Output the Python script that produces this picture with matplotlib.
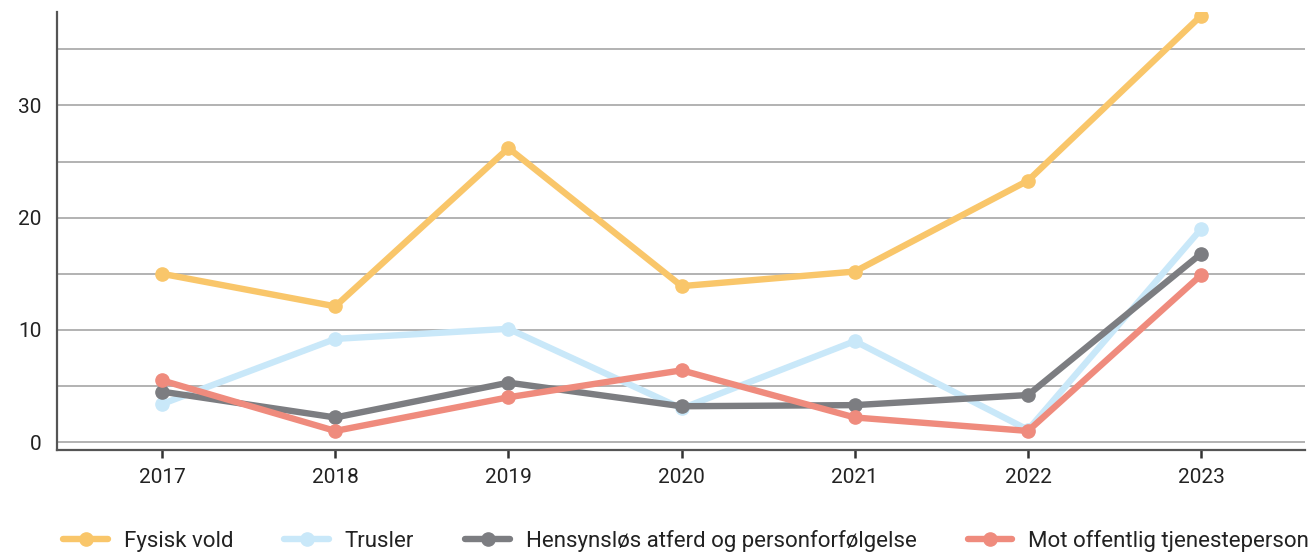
import matplotlib
matplotlib.use("Agg")
import matplotlib.pyplot as plt
from matplotlib.ticker import MultipleLocator

plt.rcParams['font.family'] = ['Roboto', 'DejaVu Sans']

years = ["2017", "2018", "2019", "2020", "2021", "2022", "2023"]
fysisk_vold = [15.0, 12.1, 26.2, 13.9, 15.2, 23.3, 38.0]
trusler = [3.4, 9.2, 10.1, 3.0, 9.0, 1.1, 19.0]
hensynslos = [4.5, 2.2, 5.3, 3.2, 3.3, 4.2, 16.8]
mot_offentlig = [5.5, 1.0, 4.0, 6.4, 2.2, 1.0, 14.9]

series = [
    ("Fysisk vold", fysisk_vold, "#F9C66A"),
    ("Trusler", trusler, "#C9E8F9"),
    ("Hensynsløs atferd og personforfølgelse", hensynslos, "#7C7D81"),
    ("Mot offentlig tjenesteperson", mot_offentlig, "#EF8B7D"),
]

fig = plt.figure(figsize=(13.13, 5.56), dpi=100)
ax = fig.add_axes([0.0434, 0.1906, 0.9506, 0.7874])

x = list(range(len(years)))
for label, vals, color in series:
    ax.plot(x, vals, color=color, lw=4.6, marker='o', markersize=9.5,
            solid_capstyle='round', solid_joinstyle='round', label=label, zorder=3)

ax.set_xlim(-0.607, 6.6)
ax.set_ylim(-0.7, 38.3)
ax.set_xticks(x)
ax.set_xticklabels(years)
ax.set_yticks([0, 10, 20, 30])
ax.yaxis.set_minor_locator(MultipleLocator(5))
ax.grid(axis='y', which='both', color='#A6A6A6', lw=1.2, zorder=1)
ax.grid(axis='x', visible=False)

for s in ['top', 'right']:
    ax.spines[s].set_visible(False)
for s in ['left', 'bottom']:
    ax.spines[s].set_color('#555555')
    ax.spines[s].set_linewidth(1.6)

ax.tick_params(axis='x', length=6, width=1.8, color='#333333', labelsize=15,
               labelcolor='#222222', pad=7)
ax.tick_params(axis='y', which='both', length=0, labelsize=15, labelcolor='#222222', pad=11)

leg = fig.legend(loc='center', bbox_to_anchor=(0.5227, 0.027), ncol=4, frameon=False,
                 fontsize=16, handlelength=2.0, handletextpad=0.72, columnspacing=2.3,
                 labelcolor='#222222')

fig.savefig("out.png", dpi=100)
